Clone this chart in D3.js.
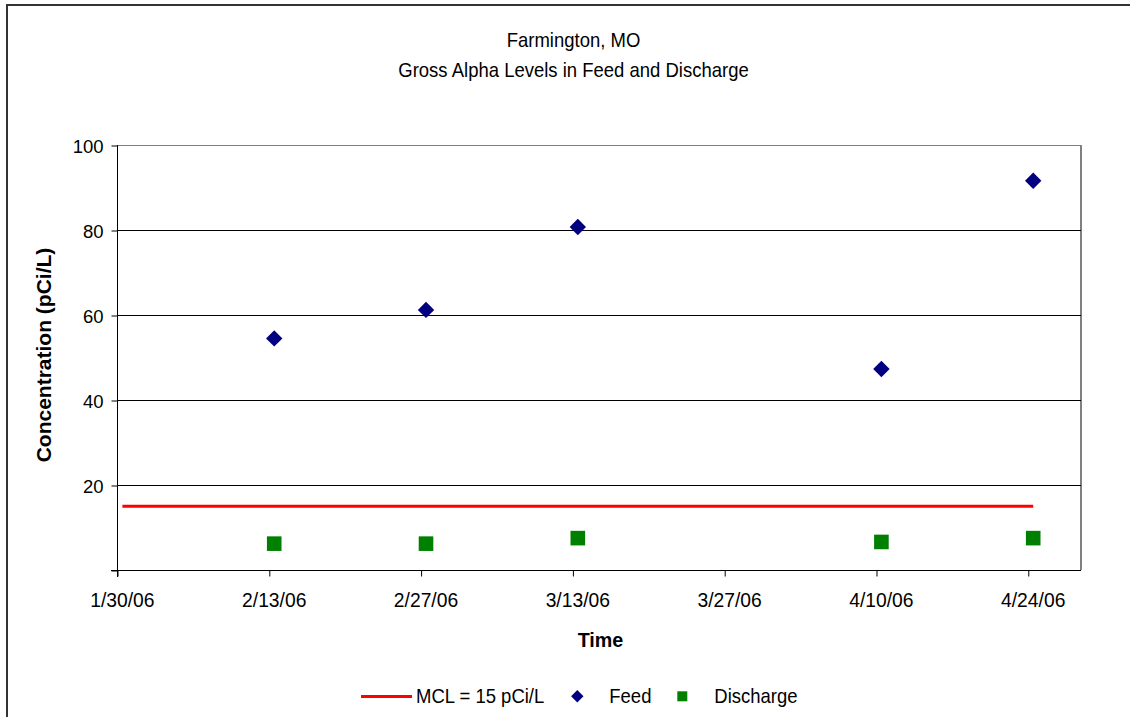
<!DOCTYPE html>
<html>
<head>
<meta charset="utf-8">
<script src="https://cdn.jsdelivr.net/npm/d3@7"></script>
<style>
  html, body { margin: 0; padding: 0; background: #fff; }
  svg { display: block; }
  text { font-family: "Liberation Sans", Arial, sans-serif; fill: #000; }
</style>
</head>
<body>
<svg id="chart" width="1130" height="717"></svg>
<script>
// ---- data ----
const titleLines = ["Farmington, MO", "Gross Alpha Levels in Feed and Discharge"];
const xAxisTitle = "Time";
const yAxisTitle = "Concentration (pCi/L)";
const tickDates = ["1/30/06", "2/13/06", "2/27/06", "3/13/06", "3/27/06", "4/10/06", "4/24/06"];
const yTickValues = [20, 40, 60, 80, 100];
const sampleDates = ["2/13/06", "2/27/06", "3/13/06", "4/10/06", "4/24/06"];
const feedValues = [54.5, 61.2, 80.7, 47.3, 91.6];
const dischargeValues = [6.2, 6.2, 7.5, 6.6, 7.5];
const mclDates = ["1/30/06", "4/24/06"];
const mclValues = [15, 15];
const legendLabels = ["MCL = 15 pCi/L", "Feed", "Discharge"];
const axisStart = "1/30/06";
const axisDays = 89;
const yDomain = [0, 100];

// ---- setup ----
const parse = d3.utcParse("%m/%d/%y");
const svg = d3.select("#chart");
const plot = { left: 117, right: 1082, top: 145, bottom: 570 };

const start = parse(axisStart);
const x = d3.scaleUtc()
  .domain([start, d3.utcDay.offset(start, axisDays)])
  .range([plot.left, plot.right]);
const y = d3.scaleLinear().domain(yDomain).range([plot.bottom, plot.top]);
const slotCenter = s => new Date(parse(s).getTime() + 12 * 3600 * 1000);

// outer chart border (only top/left visible in the viewport)
svg.append("path")
  .attr("d", "M7,740 L7,5 L1150,5")
  .attr("fill", "none").attr("stroke", "#333").attr("stroke-width", 2);

// plot area border
svg.append("line").attr("x1", plot.left).attr("x2", plot.right - 1)
  .attr("y1", plot.top + 0.5).attr("y2", plot.top + 0.5)
  .attr("stroke", "#808080").attr("stroke-width", 1);
svg.append("line").attr("x1", plot.right - 1).attr("x2", plot.right - 1)
  .attr("y1", plot.top).attr("y2", plot.bottom)
  .attr("stroke", "#808080").attr("stroke-width", 2);

// gridlines
svg.append("g").selectAll("line")
  .data(yTickValues.filter(v => v < yDomain[1]))
  .join("line")
  .attr("x1", plot.left).attr("x2", plot.right - 1)
  .attr("y1", d => Math.round(y(d)) + 0.5).attr("y2", d => Math.round(y(d)) + 0.5)
  .attr("stroke", "#000").attr("stroke-width", 1);

// y axis
const yAxis = d3.axisLeft(y).tickValues([0].concat(yTickValues)).tickSize(6)
  .tickFormat(d => d === 0 ? "" : d);
const gy = svg.append("g").attr("transform", `translate(${plot.left + 0.5},0.5)`).call(yAxis);
gy.select(".domain").remove();
gy.selectAll(".tick line").attr("stroke", "#000");
gy.selectAll(".tick text").attr("font-size", 18.5).attr("x", -14).attr("dy", "0.36em")
  .style("font-family", "'Liberation Sans', Arial, sans-serif");
svg.append("line").attr("x1", plot.left + 0.5).attr("x2", plot.left + 0.5)
  .attr("y1", plot.top).attr("y2", plot.bottom + 7).attr("stroke", "#000");

// x axis
const xAxis = d3.axisBottom(x).tickValues(tickDates.map(parse)).tickSize(6).tickFormat("");
const gx = svg.append("g").attr("transform", `translate(0.5,${plot.bottom + 0.5})`).call(xAxis);
gx.select(".domain").remove();
gx.selectAll(".tick line").attr("stroke", "#000");
svg.append("line").attr("x1", plot.left - 6).attr("x2", plot.right - 1)
  .attr("y1", plot.bottom + 0.5).attr("y2", plot.bottom + 0.5).attr("stroke", "#000");
svg.append("g").selectAll("text").data(tickDates).join("text")
  .attr("x", d => x(slotCenter(d)))
  .attr("y", 607)
  .attr("text-anchor", "middle")
  .attr("font-size", 19.3)
  .text(d => d);

// MCL line
const line = d3.line().x(d => x(slotCenter(d[0]))).y(d => y(d[1]));
svg.append("path")
  .datum(mclDates.map((d, i) => [d, mclValues[i]]))
  .attr("d", line)
  .attr("fill", "none").attr("stroke", "#ff0000").attr("stroke-width", 3);

// Feed diamonds
const diamond = r => `M0,${-r}L${r},0L0,${r}L${-r},0Z`;
svg.append("g").selectAll("path")
  .data(sampleDates.map((d, i) => [d, feedValues[i]]))
  .join("path")
  .attr("transform", d => `translate(${x(slotCenter(d[0]))},${y(d[1])})`)
  .attr("d", diamond(8.2))
  .attr("fill", "#000080");

// Discharge squares
svg.append("g").selectAll("rect")
  .data(sampleDates.map((d, i) => [d, dischargeValues[i]]))
  .join("rect")
  .attr("x", d => x(slotCenter(d[0])) - 7.3)
  .attr("y", d => y(d[1]) - 7.3)
  .attr("width", 14.6).attr("height", 14.6)
  .attr("fill", "#008000");

// titles
const condensed = (sel, px, py, sx) =>
  sel.attr("transform", `translate(${px},${py}) scale(${sx},1)`);
titleLines.forEach((t, i) => {
  svg.append("text").call(condensed, 573.5, 46.7 + i * 30.6, 0.925)
    .attr("text-anchor", "middle").attr("font-size", 20).text(t);
});
svg.append("text")
  .attr("x", 600.5).attr("y", 646.7)
  .attr("text-anchor", "middle").attr("font-size", 19.7).attr("font-weight", "bold")
  .text(xAxisTitle);
svg.append("text")
  .attr("transform", `translate(51,355) rotate(-90) scale(1.05,1)`)
  .attr("text-anchor", "middle").attr("font-size", 20).attr("font-weight", "bold")
  .text(yAxisTitle);

// legend
const lg = svg.append("g");
lg.append("line").attr("x1", 361).attr("x2", 412).attr("y1", 696.5).attr("y2", 696.5)
  .attr("stroke", "#ff0000").attr("stroke-width", 3);
lg.append("text").call(condensed, 416, 703.3, 0.925).attr("font-size", 20).text(legendLabels[0]);
lg.append("path").attr("transform", "translate(577.3,696.3)").attr("d", diamond(6.2)).attr("fill", "#000080");
lg.append("text").call(condensed, 609.3, 703.3, 0.925).attr("font-size", 20).text(legendLabels[1]);
lg.append("rect").attr("x", 677.3).attr("y", 691.3).attr("width", 10).attr("height", 10).attr("fill", "#008000");
lg.append("text").call(condensed, 714.3, 703.3, 0.925).attr("font-size", 20).text(legendLabels[2]);
</script>
</body>
</html>
